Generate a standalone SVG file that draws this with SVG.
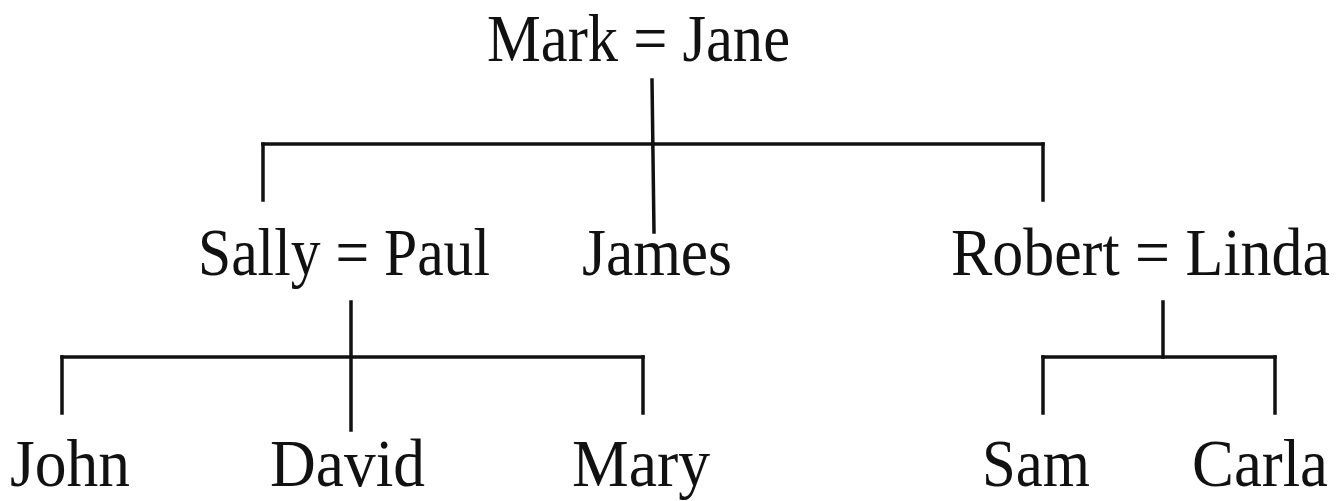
<svg xmlns="http://www.w3.org/2000/svg" width="1344" height="501" viewBox="0 0 1344 501">
<style>
text{font-family:"Liberation Serif","Times New Roman",serif;font-size:67px;fill:#111}
.c line{stroke:#111;stroke-width:3.5;stroke-linecap:square}
</style>
<rect width="1344" height="501" fill="#fff"/>
<g class="c" id="connectors">
<line x1="652" y1="80" x2="654" y2="232"/>
<line x1="263" y1="144" x2="1043" y2="144"/>
<line x1="263" y1="144" x2="263" y2="200"/>
<line x1="1043" y1="144" x2="1043" y2="200"/>
<line x1="351" y1="302" x2="351" y2="430"/>
<line x1="62" y1="357" x2="643" y2="357"/>
<line x1="62" y1="357" x2="62" y2="413"/>
<line x1="643" y1="357" x2="643" y2="413"/>
<line x1="1163" y1="302" x2="1163" y2="357"/>
<line x1="1043" y1="357" x2="1275" y2="357"/>
<line x1="1043" y1="357" x2="1043" y2="413"/>
<line x1="1275" y1="357" x2="1275" y2="413"/>
</g>
<g id="mark-jane"><text x="487" y="61" textLength="303" lengthAdjust="spacingAndGlyphs">Mark = Jane</text></g>
<g id="sally-paul"><text x="198" y="275" textLength="292" lengthAdjust="spacingAndGlyphs">Sally = Paul</text></g>
<g id="james"><text x="582" y="275" textLength="150" lengthAdjust="spacingAndGlyphs">James</text></g>
<g id="robert-linda"><text transform="translate(951,275) scale(0.925,1)" x="0" y="0">Robert = Linda</text></g>
<g id="john"><text x="10" y="486" textLength="120" lengthAdjust="spacingAndGlyphs">John</text></g>
<g id="david"><text x="270" y="486" textLength="155" lengthAdjust="spacingAndGlyphs">David</text></g>
<g id="mary"><text x="572" y="486" textLength="138" lengthAdjust="spacingAndGlyphs">Mary</text></g>
<g id="sam"><text x="982" y="486" textLength="108" lengthAdjust="spacingAndGlyphs">Sam</text></g>
<g id="carla"><text x="1192" y="486" textLength="136" lengthAdjust="spacingAndGlyphs">Carla</text></g>
</svg>
